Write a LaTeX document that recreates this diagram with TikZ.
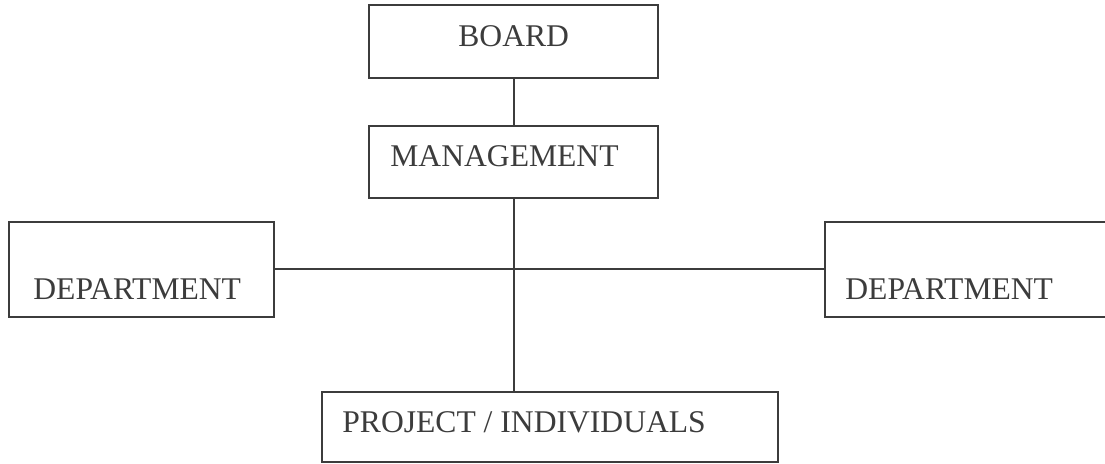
\documentclass[tikz,border=0pt]{standalone}
\usepackage{fontspec}
\setmainfont{Liberation Serif}
\usetikzlibrary{positioning}
\definecolor{inkgray}{HTML}{3C3C3C}
\tikzset{
  orgbox/.style={draw=inkgray, line width=1pt, rectangle, inner sep=0pt},
  orgtext/.style={inner sep=0pt, anchor=base west, text=inkgray, font=\fontsize{15.8pt}{18pt}\selectfont},
  orgline/.style={draw=inkgray, line width=1pt}
}
\begin{document}
\begin{tikzpicture}[x=0.5pt,y=-0.5pt]
					\useasboundingbox (0,0) rectangle (1105,464);
					\clip (0,0) rectangle (1105,464);
					% boxes
					\node[orgbox, minimum width=289*0.5pt, minimum height=73*0.5pt] (board) at (513.5,41.5) {};
					\node[orgbox, minimum width=289*0.5pt, minimum height=72*0.5pt] (mgmt) at (513.5,162) {};
					\node[orgbox, minimum width=265*0.5pt, minimum height=95*0.5pt] (deptL) at (141.5,269.5) {};
					\node[orgbox, minimum width=295*0.5pt, minimum height=95*0.5pt] (deptR) at (972.5,269.5) {};
					\node[orgbox, minimum width=456*0.5pt, minimum height=70*0.5pt] (proj) at (550,427) {};
					% labels
					\node[orgtext] (boardtxt) at (458,47) {BOARD};
					\node[orgtext] (mgmttxt) at (390,167) {MANAGEMENT};
					\node[orgtext] (deptLtxt) at (33,300) {DEPARTMENT};
					\node[orgtext] (deptRtxt) at (845,300) {DEPARTMENT};
					\node[orgtext] (projtxt) at (342,433) {PROJECT / INDIVIDUALS};
					% connectors
					\draw[orgline] (board) -- (mgmt);
					\draw[orgline] (mgmt.south) -- (mgmt.south |- proj.north);
					\draw[orgline] (deptL.east) -- (deptR.west);
				\end{tikzpicture}
\end{document}
